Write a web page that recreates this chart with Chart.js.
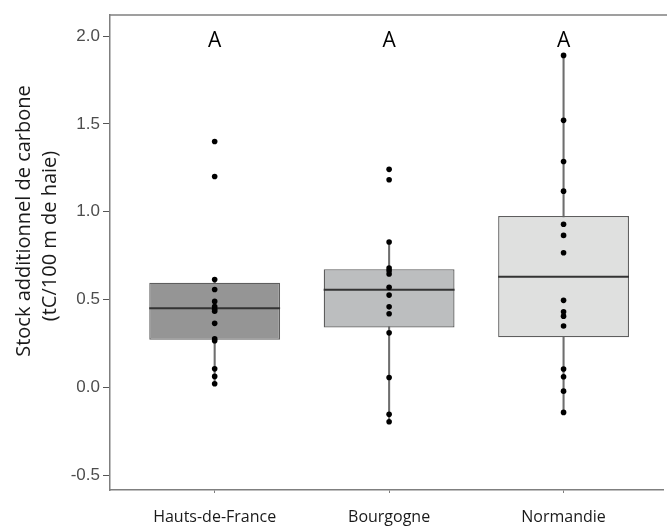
<!DOCTYPE html>
<html>
<head>
<meta charset="utf-8">
<script src="https://cdn.jsdelivr.net/npm/chart.js@4.4.1/dist/chart.umd.min.js"></script>
<style>
  html, body { margin: 0; padding: 0; background: #ffffff; }
  #wrap { width: 667px; height: 527px; position: relative; }
</style>
</head>
<body>
<div id="wrap"><canvas id="c" width="667" height="527"></canvas></div>
<script>
// ---- data ----
const categories = ["Hauts-de-France", "Bourgogne", "Normandie"];
const letters = ["A", "A", "A"];
const q1 = [0.27, 0.34, 0.285];
const medians = [0.45, 0.555, 0.63];
const q3 = [0.595, 0.672, 0.976];
const whiskerLow = [0.02, -0.196, -0.143];
const whiskerHigh = [0.614, 0.827, 1.89];
const pointsHauts = [1.40, 1.20, 0.614, 0.557, 0.489, 0.46, 0.445, 0.433, 0.364, 0.276, 0.265, 0.105, 0.062, 0.02];
const pointsBourgogne = [1.241, 1.182, 0.827, 0.679, 0.664, 0.645, 0.569, 0.525, 0.458, 0.419, 0.31, 0.056, -0.154, -0.196];
const pointsNormandie = [1.89, 1.52, 1.286, 1.117, 0.928, 0.865, 0.766, 0.495, 0.43, 0.405, 0.349, 0.104, 0.06, -0.022, -0.143];
const yTicks = [-0.5, 0.0, 0.5, 1.0, 1.5, 2.0];
const yTitle = ["Stock additionnel de carbone", "(tC/100 m de haie)"];

const boxColors = ["#959595", "#bcbebf", "#dfe0df"];
const pointGroups = [pointsHauts, pointsBourgogne, pointsNormandie];

const scatterData = [];
pointGroups.forEach((arr, i) => arr.forEach(v => scatterData.push({ x: i + 1, y: v })));

const boxPlugin = {
  id: 'boxExtras',
  afterDatasetDraw(chart, args) {
    if (args.index !== 1) return;
    const ctx = chart.ctx;
    const ys = chart.scales.y;
    ctx.save();
    ctx.strokeStyle = '#333333';
    ctx.lineWidth = 2;
    args.meta.data.forEach((bar, i) => {
      const y = ys.getPixelForValue(medians[i]);
      ctx.beginPath();
      ctx.moveTo(bar.x - bar.width / 2, y);
      ctx.lineTo(bar.x + bar.width / 2, y);
      ctx.stroke();
    });
    ctx.restore();
  },
  afterDraw(chart) {
    const ctx = chart.ctx;
    const a = chart.chartArea;
    const xs = chart.scales.x, ys = chart.scales.y;
    ctx.save();
    // top border of panel
    ctx.strokeStyle = '#7f7f7f';
    ctx.lineWidth = 1.5;
    ctx.beginPath();
    ctx.moveTo(a.left, a.top);
    ctx.lineTo(chart.width, a.top);
    ctx.stroke();
    // letters
    ctx.fillStyle = '#000000';
    ctx.font = '21px "Open Sans", sans-serif';
    ctx.textAlign = 'center';
    ctx.textBaseline = 'alphabetic';
    letters.forEach((t, i) => {
      ctx.fillText(t, xs.getPixelForValue(i + 1), ys.getPixelForValue(1.935));
    });
    // y title
    ctx.fillStyle = '#1a1a1a';
    ctx.font = '20px "Open Sans", sans-serif';
    ctx.textAlign = 'center';
    ctx.textBaseline = 'middle';
    ctx.save();
    ctx.translate(24, 221);
    ctx.rotate(-Math.PI / 2);
    ctx.fillText(yTitle[0], 0, 0);
    ctx.restore();
    ctx.save();
    ctx.translate(50, 236);
    ctx.rotate(-Math.PI / 2);
    ctx.fillText(yTitle[1], 0, 0);
    ctx.restore();
    ctx.restore();
  }
};

new Chart(document.getElementById('c'), {
  type: 'bar',
  data: {
    datasets: [
      {
        type: 'bar',
        label: 'whiskers',
        data: categories.map((c, i) => ({ x: i + 1, y: [whiskerLow[i], whiskerHigh[i]] })),
        backgroundColor: '#6e6e6e',
        barThickness: 1.4,
        grouped: false,
        order: 3
      },
      {
        type: 'bar',
        label: 'box',
        data: categories.map((c, i) => ({ x: i + 1, y: [q1[i], q3[i]] })),
        backgroundColor: boxColors,
        borderColor: '#5e5e5e',
        borderWidth: 1.3,
        borderSkipped: false,
        barPercentage: 0.75,
        categoryPercentage: 1.0,
        grouped: false,
        order: 2
      },
      {
        type: 'scatter',
        label: 'points',
        data: scatterData,
        backgroundColor: '#000000',
        borderWidth: 0,
        pointRadius: 2.8,
        order: 1
      }
    ]
  },
  options: {
    responsive: false,
    animation: false,
    devicePixelRatio: 1,
    layout: { padding: { top: 15, right: 0, left: 0, bottom: 0 } },
    plugins: { legend: { display: false }, tooltip: { enabled: false } },
    scales: {
      x: {
        type: 'linear',
        min: 0.4,
        max: 3.57,
        offset: false,
        afterBuildTicks: s => { s.ticks = categories.map((c, i) => ({ value: i + 1 })); },
        afterFit: s => { s.height = 37; },
        ticks: {
          callback: (v) => categories[v - 1],
          color: '#1a1a1a',
          font: { family: '"Open Sans", sans-serif', size: 16 },
          padding: 15,
          maxRotation: 0,
          autoSkip: false
        },
        grid: { drawOnChartArea: false, drawTicks: true, tickLength: 3, color: '#7f7f7f', offset: false },
        border: { display: true, color: '#7f7f7f', width: 1.5 }
      },
      y: {
        type: 'linear',
        min: -0.585,
        max: 2.12,
        afterBuildTicks: s => { s.ticks = yTicks.map(v => ({ value: v })); },
        afterFit: s => { s.width = 110; },
        ticks: {
          callback: v => v.toFixed(1),
          color: '#4d4d4d',
          font: { family: '"Liberation Sans", Arial, sans-serif', size: 17 },
          padding: 3
        },
        grid: { drawOnChartArea: false, drawTicks: true, tickLength: 7, color: '#555555' },
        border: { display: true, color: '#7f7f7f', width: 1.5 }
      }
    }
  },
  plugins: [boxPlugin]
});
</script>
</body>
</html>
